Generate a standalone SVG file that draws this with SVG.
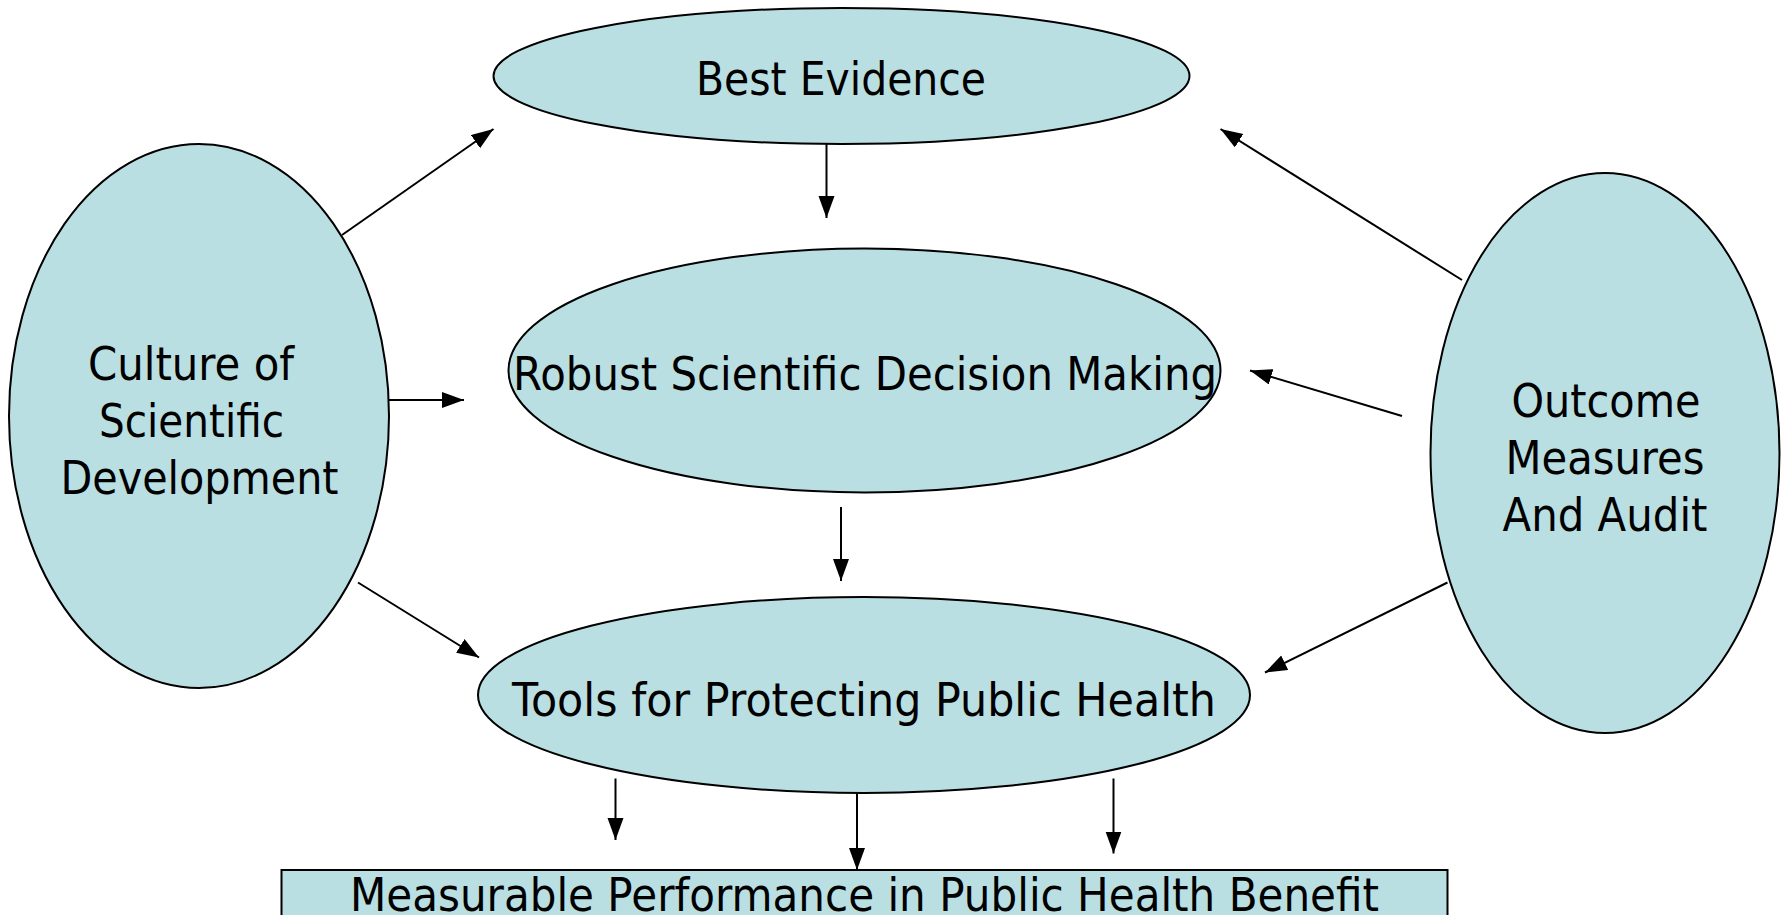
<svg xmlns="http://www.w3.org/2000/svg" width="1787" height="915" viewBox="0 0 1787 915">
  <style>
    .node { fill: #B9DFE2; stroke: #000; stroke-width: 2; }
    .label { font-family: "DejaVu Sans", "Liberation Sans", sans-serif; font-size: 47px; fill: #000; text-anchor: middle; }
    .edge { stroke: #000; stroke-width: 2; fill: none; marker-end: url(#arrow); }
  </style>
  <defs>
    <marker id="arrow" markerUnits="userSpaceOnUse" markerWidth="24" markerHeight="18" refX="22" refY="8" orient="auto">
      <path d="M0,0 L22,8 L0,16 z" fill="#000"/>
    </marker>
  </defs>
  <rect width="1787" height="915" fill="#fff"/>

  <g id="best-evidence">
    <ellipse class="node" cx="841.5" cy="76" rx="348" ry="68"/>
    <text class="label" x="841" y="95" font-size="45" textLength="290" lengthAdjust="spacingAndGlyphs">Best Evidence</text>
  </g>

  <g id="robust-decision-making">
    <ellipse class="node" cx="864.5" cy="370.5" rx="356" ry="122"/>
    <text class="label" x="865" y="390" textLength="704" lengthAdjust="spacingAndGlyphs">Robust Scientific Decision Making</text>
  </g>

  <g id="tools-public-health">
    <ellipse class="node" cx="864" cy="695" rx="386" ry="98"/>
    <text class="label" x="864" y="716" textLength="704" lengthAdjust="spacingAndGlyphs">Tools for Protecting Public Health</text>
  </g>

  <g id="culture-scientific-development">
    <ellipse class="node" cx="199" cy="416" rx="190" ry="272"/>
    <text class="label" x="191" y="379.5" textLength="206" lengthAdjust="spacingAndGlyphs">Culture of</text>
    <text class="label" x="191.5" y="436.5" textLength="185" lengthAdjust="spacingAndGlyphs">Scientific</text>
    <text class="label" x="199.5" y="493.5" textLength="278" lengthAdjust="spacingAndGlyphs">Development</text>
  </g>

  <g id="outcome-measures-audit">
    <ellipse class="node" cx="1605" cy="453" rx="174.5" ry="280"/>
    <text class="label" x="1606" y="417" textLength="189" lengthAdjust="spacingAndGlyphs">Outcome</text>
    <text class="label" x="1605" y="474" textLength="199" lengthAdjust="spacingAndGlyphs">Measures</text>
    <text class="label" x="1605" y="531" textLength="205" lengthAdjust="spacingAndGlyphs">And Audit</text>
  </g>

  <g id="measurable-performance">
    <rect class="node" x="281.5" y="870" width="1166" height="60"/>
    <text class="label" x="864.5" y="911" textLength="1029" lengthAdjust="spacingAndGlyphs">Measurable Performance in Public Health Benefit</text>
  </g>

  <g id="connectors">
    <line class="edge" x1="342" y1="235" x2="493.5" y2="129"/>
    <line class="edge" x1="389" y1="400" x2="464" y2="400"/>
    <line class="edge" x1="358" y1="582.5" x2="479" y2="657.5"/>
    <line class="edge" x1="826.5" y1="144" x2="826.5" y2="218"/>
    <line class="edge" x1="841" y1="507" x2="841" y2="581"/>
    <line class="edge" x1="1462" y1="280" x2="1220.5" y2="129"/>
    <line class="edge" x1="1402" y1="416" x2="1250" y2="370.5"/>
    <line class="edge" x1="1447.5" y1="582.5" x2="1265" y2="672.5"/>
    <line class="edge" x1="615.5" y1="778.5" x2="615.5" y2="840"/>
    <line class="edge" x1="857" y1="793" x2="857" y2="870"/>
    <line class="edge" x1="1113.5" y1="778.5" x2="1113.5" y2="853.5"/>
  </g>
</svg>
